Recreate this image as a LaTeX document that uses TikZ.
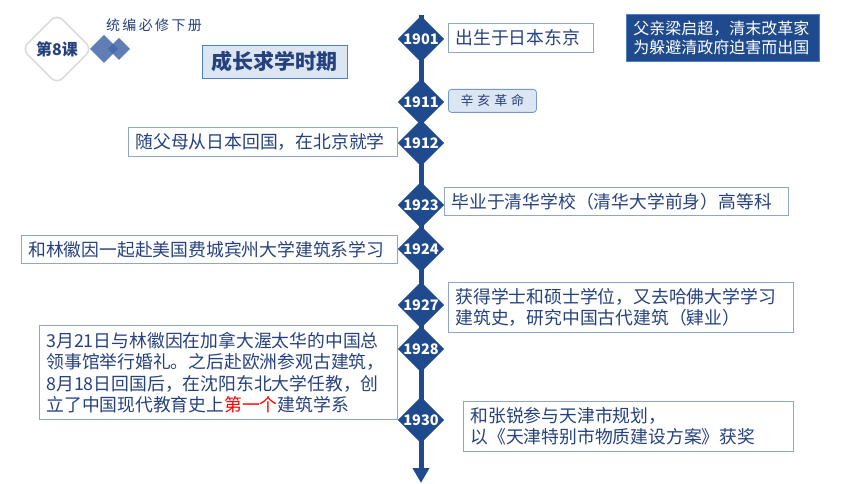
\documentclass[tikz,border=0pt]{standalone}
\usepackage{fontspec}
\setmainfont{Noto Sans CJK SC}
\usepackage{xcolor}
\usepackage{tikz}
\usetikzlibrary{arrows.meta,shapes.geometric}

\definecolor{navy}{HTML}{1F4A8E}
\definecolor{inkblue}{HTML}{26427E}
\definecolor{boxline}{HTML}{8FA5C9}
\definecolor{paleblue}{HTML}{DCE6F2}
\definecolor{midblue}{HTML}{4F81BD}
\definecolor{decoblue}{HTML}{4467A8}

\begin{document}
\begin{tikzpicture}[x=1pt, y=-1pt,
		year/.style={diamond, aspect=1, fill=navy, text=white, inner sep=0pt, minimum size=44pt, font=\fontsize{14.5}{14.5}\selectfont\bfseries},
		event/.style={draw=boxline, line width=0.8pt, fill=white, text=inkblue, anchor=north west, align=left, inner xsep=7pt, inner ysep=0pt, font=\fontsize{17.8}{21.5}\selectfont},
		note/.style={event, fill=navy, draw=midblue, text=white, font=\fontsize{16}{19}\selectfont},
		tag/.style={event, fill=paleblue, draw=midblue!80, rounded corners=3pt, align=center, font={\fontsize{13}{13}\selectfont\addfontfeature{LetterSpace=30}}},
		deco/.style={fill=decoblue, fill opacity=0.85}]
		\useasboundingbox (0,0) rectangle (860,484);
		% заголовок
		\node [diamond, aspect=1, rounded corners=8pt, minimum size=68pt, fill=white, draw=black!15, line width=1.5pt, text=inkblue, font=\fontsize{16}{16}\selectfont\bfseries] (lesson) at (57,49) {第8课};
		\fill [deco] (104,35) -- (118,49) -- (104,63) -- (90,49) -- cycle;
		\fill [deco] (119,38) -- (130,49) -- (119,60) -- (108,49) -- cycle;
		\node [text=inkblue, font={\fontsize{14}{14}\selectfont\addfontfeature{LetterSpace=17}}] (book) at (154,25) {统编必修下册};
		\node [draw=midblue, line width=0.8pt, fill=paleblue, text=inkblue, minimum width=145pt, minimum height=33pt, font=\fontsize{21}{21}\selectfont\bfseries] (title) at (274.5,61.5) {成长求学时期};
		% ось
		\coordinate (top) at (421,15);
		\coordinate (bottom) at (421,483);
		\draw [navy, line width=5pt, -{Triangle[width=16pt,length=15pt]}] (top) -- (bottom);
		% годы
		\node [year] (y1901) at (421,39) {1901};
		\node [year] (y1911) at (421,102) {1911};
		\node [year] (y1912) at (421,143) {1912};
		\node [year] (y1923) at (421,205) {1923};
		\node [year] (y1924) at (421,249) {1924};
		\node [year] (y1927) at (421,305) {1927};
		\node [year] (y1928) at (421,349) {1928};
		\node [year] (y1930) at (421,420) {1930};
		% события
		\node [event, text width=131pt, minimum height=29pt] (e1901) at (448,23) {出生于日本东京};
		\node [note, text width=179pt, minimum height=47pt] (father) at (626,14) {父亲梁启超，清末改革家\\为躲避清政府迫害而出国};
		\node [tag, text width=74pt, minimum height=23pt] (e1911) at (448,89) {辛亥革命};
		\node [event, text width=255pt, minimum height=29pt] (e1912) at (128,127) {随父母从日本回国，在北京就学};
		\node [event, text width=330pt, minimum height=28pt] (e1923) at (444,187) {毕业于清华学校（清华大学前身）高等科};
		\node [event, text width=362pt, minimum height=28pt] (e1924) at (21,235) {和林徽因一起赴美国费城宾州大学建筑系学习};
		\node [event, text width=331pt, minimum height=50pt] (e1927) at (448,282) {获得学士和硕士学位，又去哈佛大学学习\\建筑史，研究中国古代建筑（肄业）};
		\node [event, text width=344pt, minimum height=94pt] (e1928) at (39,325) {3月21日与林徽因在加拿大渥太华的中国总\\领事馆举行婚礼。之后赴欧洲参观古建筑，\\8月18日回国后，在沈阳东北大学任教，创\\立了中国现代教育史上\textcolor{red}{第一个}建筑学系};
		\node [event, text width=316pt, minimum height=50pt] (e1930) at (463,401) {和张锐参与天津市规划，\\以《天津特别市物质建设方案》获奖};
\end{tikzpicture}
\end{document}
